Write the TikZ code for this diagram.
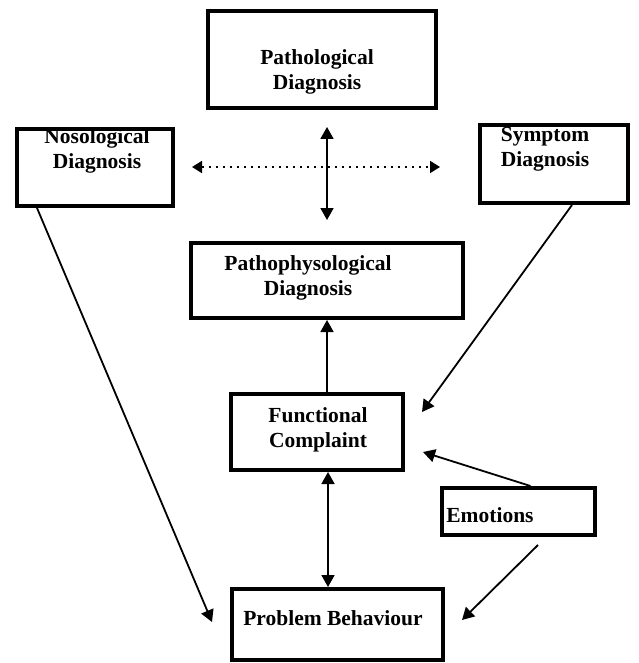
\documentclass[tikz,border=0pt]{standalone}
\usepackage{fontspec}
\setmainfont{Liberation Serif}
\usetikzlibrary{arrows.meta}
\tikzset{diag box/.style={draw, line width=4pt, inner sep=0pt},
  box text/.style={font=\fontsize{21.5}{25}\selectfont\bfseries, align=center, inner sep=0pt},
  link/.style={line width=1.8pt, -{Triangle[length=12pt,width=13pt]}},
  both link/.style={line width=1.8pt, {Triangle[length=12pt,width=13pt]}-{Triangle[length=12pt,width=13pt]}},}

\begin{document}
\begin{tikzpicture}[x=1pt,y={(0,-1pt)}]
  \useasboundingbox (0,0) rectangle (638,663);
  % boxes
  \node[diag box, minimum width=228, minimum height=97,
    label={[box text, xshift=-5pt, yshift=-12pt]center:{Pathological\\Diagnosis}}] (patho) at (322,59.5) {};
  \node[diag box, minimum width=156, minimum height=77,
    label={[box text, xshift=2pt, yshift=17pt]center:{Nosological\\Diagnosis}}] (noso) at (95,167.5) {};
  \node[diag box, minimum width=148, minimum height=78,
    label={[box text, xshift=-9pt, yshift=15pt]center:{Symptom\\Diagnosis}}] (symp) at (554,164) {};
  \node[diag box, minimum width=272, minimum height=75,
    label={[box text, xshift=-19pt, yshift=3pt]center:{Pathophysological\\Diagnosis}}] (physio) at (327,280.5) {};
  \node[diag box, minimum width=172, minimum height=76,
    label={[box text, xshift=1pt, yshift=2.5pt]center:{Functional\\Complaint}}] (func) at (317,432) {};
  \node[diag box, minimum width=153, minimum height=47,
    label={[box text, xshift=-28.5pt, yshift=-3.5pt]center:Emotions}] (emo) at (518.5,511.5) {};
  \node[diag box, minimum width=211, minimum height=71,
    label={[box text, xshift=-4.5pt, yshift=6.5pt]center:Problem Behaviour}] (prob) at (337.5,624.5) {};

  % free ends
  \coordinate (vtop) at (327,127);
  \coordinate (vbot) at (327,220);
  \coordinate (dleft) at (192,167);
  \coordinate (dright) at (440,167);
  \coordinate (nosoend) at (212,622);
  \coordinate (sympend) at (422,412);
  \coordinate (emoup) at (423,452);
  \coordinate (emostart) at (538,545);
  \coordinate (emodown) at (462,620);

  % connectors
  \draw[both link] (vtop) -- (vbot);
  \draw[line width=1.8pt, dash pattern=on 2pt off 5pt,
    {Triangle[length=10pt,width=12pt]}-{Triangle[length=10pt,width=12pt]}] (dleft) -- (dright);
  \draw[link] ([xshift=22pt]noso.south west) -- (nosoend);
  \draw[link] ([xshift=-58pt]symp.south east) -- (sympend);
  \draw[link] (physio.south |- func.north) -- (physio.south);
  \draw[both link] ([xshift=11pt]func.south) -- ([xshift=11pt]func.south |- prob.north);
  \draw[link] ([xshift=12pt]emo.north) -- (emoup);
  \draw[link] (emostart) -- (emodown);
\end{tikzpicture}
\end{document}
